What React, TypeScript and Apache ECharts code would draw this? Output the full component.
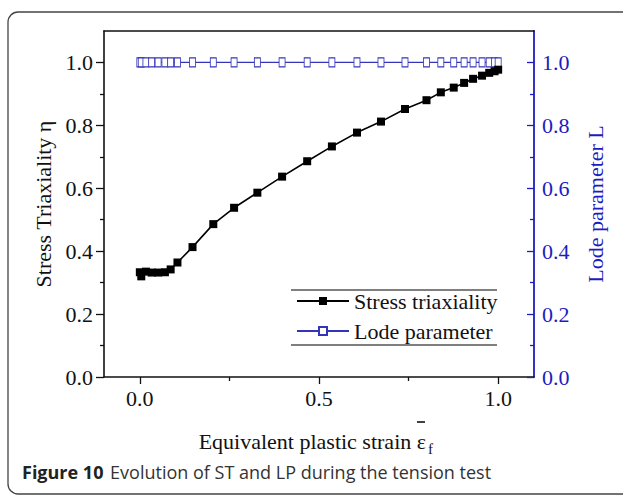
import React, { useEffect, useRef } from 'react';
import * as echarts from 'echarts';

// ---- data ----
const strain = [0, 0.004, 0.017, 0.033, 0.051, 0.07, 0.086, 0.105, 0.147, 0.205, 0.263, 0.328, 0.397, 0.467, 0.536, 0.606, 0.673, 0.74, 0.8, 0.84, 0.876, 0.905, 0.93, 0.955, 0.975, 0.99, 1.0];
const stressTriaxiality = [0.333, 0.32, 0.335, 0.332, 0.332, 0.333, 0.342, 0.364, 0.413, 0.486, 0.538, 0.586, 0.637, 0.686, 0.733, 0.777, 0.812, 0.852, 0.88, 0.905, 0.92, 0.935, 0.948, 0.958, 0.967, 0.972, 0.977];
const lodeParameter = [1.0, 1.0, 1.0, 1.0, 1.0, 1.0, 1.0, 1.0, 1.0, 1.0, 1.0, 1.0, 1.0, 1.0, 1.0, 1.0, 1.0, 1.0, 1.0, 1.0, 1.0, 1.0, 1.0, 1.0, 1.0, 1.0, 1.0];
const seriesNames = ['Stress triaxiality', 'Lode parameter'];
const xMajorTicks = [0, 0.5, 1.0];
const xMinorTicks = [0.25, 0.75];
const yMajorTicks = [0, 0.2, 0.4, 0.6, 0.8, 1.0];
const yMinorTicks = [0.1, 0.3, 0.5, 0.7, 0.9];
const leftAxisName = 'Stress Triaxiality η';
const rightAxisName = 'Lode parameter L';
const xAxisTitle = 'Equivalent plastic strain ε';
const xAxisSub = 'f';
const captionBold = 'Figure 10';
const captionText = 'Evolution of ST and LP during the tension test';

const SERIF = "'Liberation Serif', 'Times New Roman', serif";
const SANS = "'Open Sans', 'Noto Sans', sans-serif";
const BLUE = '#1c1cc0';
const LODE = '#3434b8';
const BLACK = '#111';

export default function App() {
  const ref = useRef<HTMLDivElement>(null);
  useEffect(() => {
    if (!ref.current) return;
    const chart = echarts.init(ref.current, null, { renderer: 'svg' });
    const fmt = (v: number) => v.toFixed(1);
    const baseY = {
      type: 'value' as const,
      min: 0,
      max: 1.1,
      splitLine: { show: false },
    };
    const baseX = {
      type: 'value' as const,
      min: -0.1,
      max: 1.1,
      splitLine: { show: false },
    };
    chart.setOption({
      animation: false,
      backgroundColor: '#fff',
      grid: { left: 104, right: 89, top: 31, bottom: 119, containLabel: false },
      xAxis: [
        {
          ...baseX,
          position: 'bottom',
          axisLine: { onZero: false, lineStyle: { color: BLACK, width: 1.6 } },
          axisTick: { customValues: xMajorTicks, length: 7, inside: false, lineStyle: { color: BLACK, width: 1.3 } },
          axisLabel: { customValues: xMajorTicks, formatter: fmt, fontSize: 22, fontFamily: SERIF, color: BLACK, margin: 10 },
        },
        {
          ...baseX,
          position: 'bottom',
          axisLine: { show: false, onZero: false },
          axisTick: { customValues: xMinorTicks, length: 4, inside: false, lineStyle: { color: BLACK, width: 1.3 } },
          axisLabel: { show: false },
        },
        {
          ...baseX,
          position: 'top',
          axisLine: { onZero: false, lineStyle: { color: BLACK, width: 1.6 } },
          axisTick: { show: false },
          axisLabel: { show: false },
        },
      ],
      yAxis: [
        {
          ...baseY,
          position: 'left',
          axisLine: { onZero: false, lineStyle: { color: BLACK, width: 1.6 } },
          axisTick: { customValues: yMajorTicks, length: 8, inside: false, lineStyle: { color: BLACK, width: 1.3 } },
          axisLabel: { customValues: yMajorTicks, formatter: fmt, fontSize: 22, fontFamily: SERIF, color: BLACK, margin: 11 },
          name: leftAxisName,
          nameLocation: 'middle',
          nameRotate: 90,
          nameGap: 48,
          nameTextStyle: { fontSize: 22, fontFamily: SERIF, color: BLACK },
        },
        {
          ...baseY,
          position: 'left',
          axisLine: { show: false, onZero: false },
          axisTick: { customValues: yMinorTicks, length: 4, inside: false, lineStyle: { color: BLACK, width: 1.3 } },
          axisLabel: { show: false },
        },
        {
          ...baseY,
          position: 'right',
          axisLine: { onZero: false, lineStyle: { color: BLUE, width: 1.8 } },
          axisTick: { customValues: yMajorTicks, length: 7, inside: true, lineStyle: { color: BLUE, width: 1.3 } },
          axisLabel: { customValues: yMajorTicks, formatter: fmt, fontSize: 22, fontFamily: SERIF, color: BLUE, margin: 8 },
          name: rightAxisName,
          nameLocation: 'middle',
          nameRotate: 90,
          nameGap: 50,
          nameTextStyle: { fontSize: 22, fontFamily: SERIF, color: BLUE },
        },
        {
          ...baseY,
          position: 'right',
          axisLine: { show: false, onZero: false },
          axisTick: { customValues: yMinorTicks, length: 4, inside: true, lineStyle: { color: BLUE, width: 1.3 } },
          axisLabel: { show: false },
        },
      ],
      legend: {
        orient: 'vertical',
        left: 291,
        top: 285,
        itemWidth: 52,
        itemHeight: 10,
        itemGap: 8,
        data: seriesNames,
        textStyle: { fontSize: 22, fontFamily: SERIF, color: BLACK },
      },
      series: [
        {
          name: seriesNames[0],
          type: 'line',
          xAxisIndex: 0,
          yAxisIndex: 0,
          data: strain.map((x, i) => [x, stressTriaxiality[i]]),
          symbol: 'rect',
          symbolSize: 8,
          itemStyle: { color: '#000' },
          lineStyle: { color: '#000', width: 1.6 },
          z: 3,
        },
        {
          name: seriesNames[1],
          type: 'line',
          xAxisIndex: 0,
          yAxisIndex: 2,
          data: strain.map((x, i) => [x, lodeParameter[i]]),
          symbol: 'rect',
          symbolSize: [6, 9],
          itemStyle: { color: '#fff', borderColor: LODE, borderWidth: 1 },
          lineStyle: { color: LODE, width: 1.3 },
          z: 2,
        },
      ],
      graphic: [
        {
          type: 'rect',
          shape: { x: 8, y: 12, width: 700, height: 482, r: 10 },
          style: { fill: 'none', stroke: '#444', lineWidth: 1.3 },
          silent: true,
          z: -1,
        },
        {
          type: 'line',
          shape: { x1: 291, y1: 290, x2: 497, y2: 290 },
          style: { stroke: '#555', lineWidth: 1.3 },
        },
        {
          type: 'line',
          shape: { x1: 291, y1: 345, x2: 497, y2: 345 },
          style: { stroke: '#555', lineWidth: 1.3 },
        },
        {
          type: 'text',
          x: 426,
          y: 441,
          style: { text: xAxisTitle, font: `22px ${SERIF}`, fill: BLACK, textAlign: 'right', textVerticalAlign: 'middle' },
        },
        {
          type: 'line',
          shape: { x1: 417, y1: 422, x2: 425, y2: 422 },
          style: { stroke: BLACK, lineWidth: 1.6 },
        },
        {
          type: 'text',
          x: 428,
          y: 449,
          style: { text: xAxisSub, font: `15px ${SERIF}`, fill: BLACK, textAlign: 'left', textVerticalAlign: 'middle' },
        },
        {
          type: 'text',
          x: 22,
          y: 472,
          style: {
            text: `{b|${captionBold}}  {n|${captionText}}`,
            textVerticalAlign: 'middle',
            rich: {
              b: { fontFamily: SANS, fontWeight: 'bold', fontSize: 18, fill: '#222' },
              n: { fontFamily: SANS, fontSize: 18, fill: '#333' },
            },
          },
        },
      ],
    });
    return () => chart.dispose();
  }, []);
  return (
    <div
      ref={ref}
      style={{ position: 'absolute', left: 0, top: 0, width: 623, height: 496, background: '#fff' }}
    />
  );
}
